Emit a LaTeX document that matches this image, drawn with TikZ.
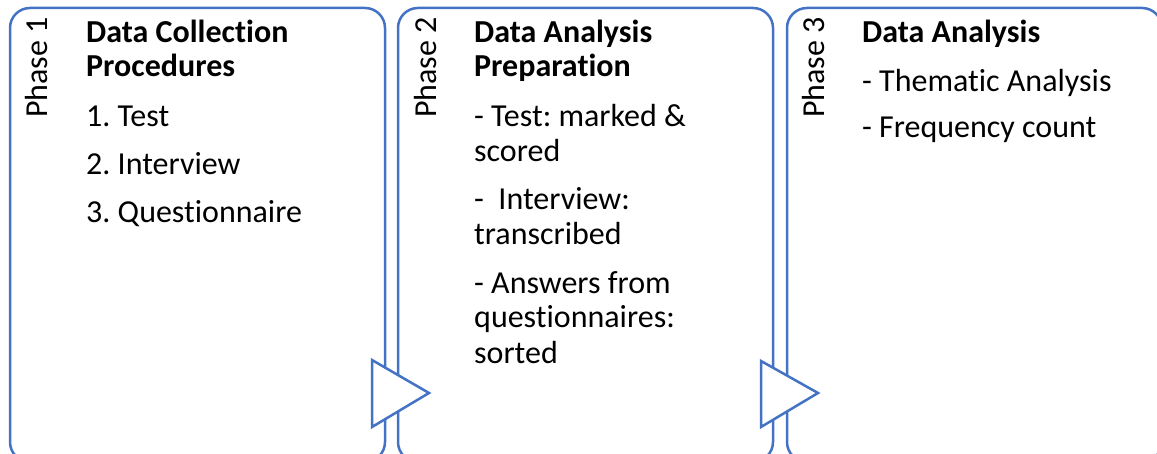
\documentclass[tikz,border=0pt]{standalone}
\usepackage{fontspec}
\setmainfont{Carlito}[Ligatures=NoCommon]
\definecolor{phaseblue}{HTML}{4472C4}
\frenchspacing
\begin{document}
\begin{tikzpicture}[x=1pt,y=1pt,
  panel/.style={draw=phaseblue, line width=2.5pt, rounded corners=20pt, fill=white,
    minimum width=375pt, minimum height=454pt, inner sep=0pt},
  chevron/.style={draw=phaseblue, line width=2.5pt, fill=white, line join=miter},
  phase/.style={rotate=90, anchor=base west, inner sep=0pt, font=\fontsize{32}{38}\selectfont},
  head/.style={anchor=base west, inner sep=0pt, font=\fontsize{32}{38}\selectfont\bfseries},
  item/.style={anchor=base west, inner sep=0pt, font=\fontsize{32}{38}\selectfont}]
\useasboundingbox (0,0) rectangle (1157,454);
\clip (0,0) rectangle (1157,454);

% three phase panels
\node[panel] (p1) at (197.5,219) {};
\node[panel] (p2) at (585.5,219) {};
\node[panel] (p3) at (974.5,219) {};

% chevrons between panels
\coordinate (t1a) at (372,94);
\coordinate (t1b) at (372,27);
\coordinate (t1c) at (429,61);
\draw[chevron] (t1a) -- (t1c) -- (t1b) -- cycle;
\coordinate (t2a) at (761,93);
\coordinate (t2b) at (761,27);
\coordinate (t2c) at (818,61);
\draw[chevron] (t2a) -- (t2c) -- (t2b) -- cycle;

% phase labels
\node[phase] (ph1) at (47,336) {Phase 1};
\node[phase] (ph2) at (436,336) {Phase 2};
\node[phase] (ph3) at (824,336) {Phase 3};

% phase 1
\node[head] (h1a) at (86,411) {Data Collection};
\node[head] (h1b) at (86,377) {Procedures};
\node[item] (a1) at (86,327) {1. Test};
\node[item] (a2) at (86,279) {2. Interview};
\node[item] (a3) at (86,231) {3. Questionnaire};

% phase 2
\node[head] (h2a) at (474,411) {Data Analysis};
\node[head] (h2b) at (474,377) {Preparation};
\node[item] (b1) at (474,327) {- Test: marked \&};
\node[item] (b2) at (474,292) {scored};
\node[item] (b3) at (474,244) {-\ \ Interview:};
\node[item] (b4) at (474,209) {transcribed};
\node[item] (b5) at (474,160) {- Answers from};
\node[item] (b6) at (474,126) {questionnaires:};
\node[item] (b7) at (474,90) {sorted};

% phase 3
\node[head] (h3a) at (862,411) {Data Analysis};
\node[item] (c1) at (862,362) {- Thematic Analysis};
\node[item] (c2) at (862,316) {- Frequency count};
\end{tikzpicture}
\end{document}
